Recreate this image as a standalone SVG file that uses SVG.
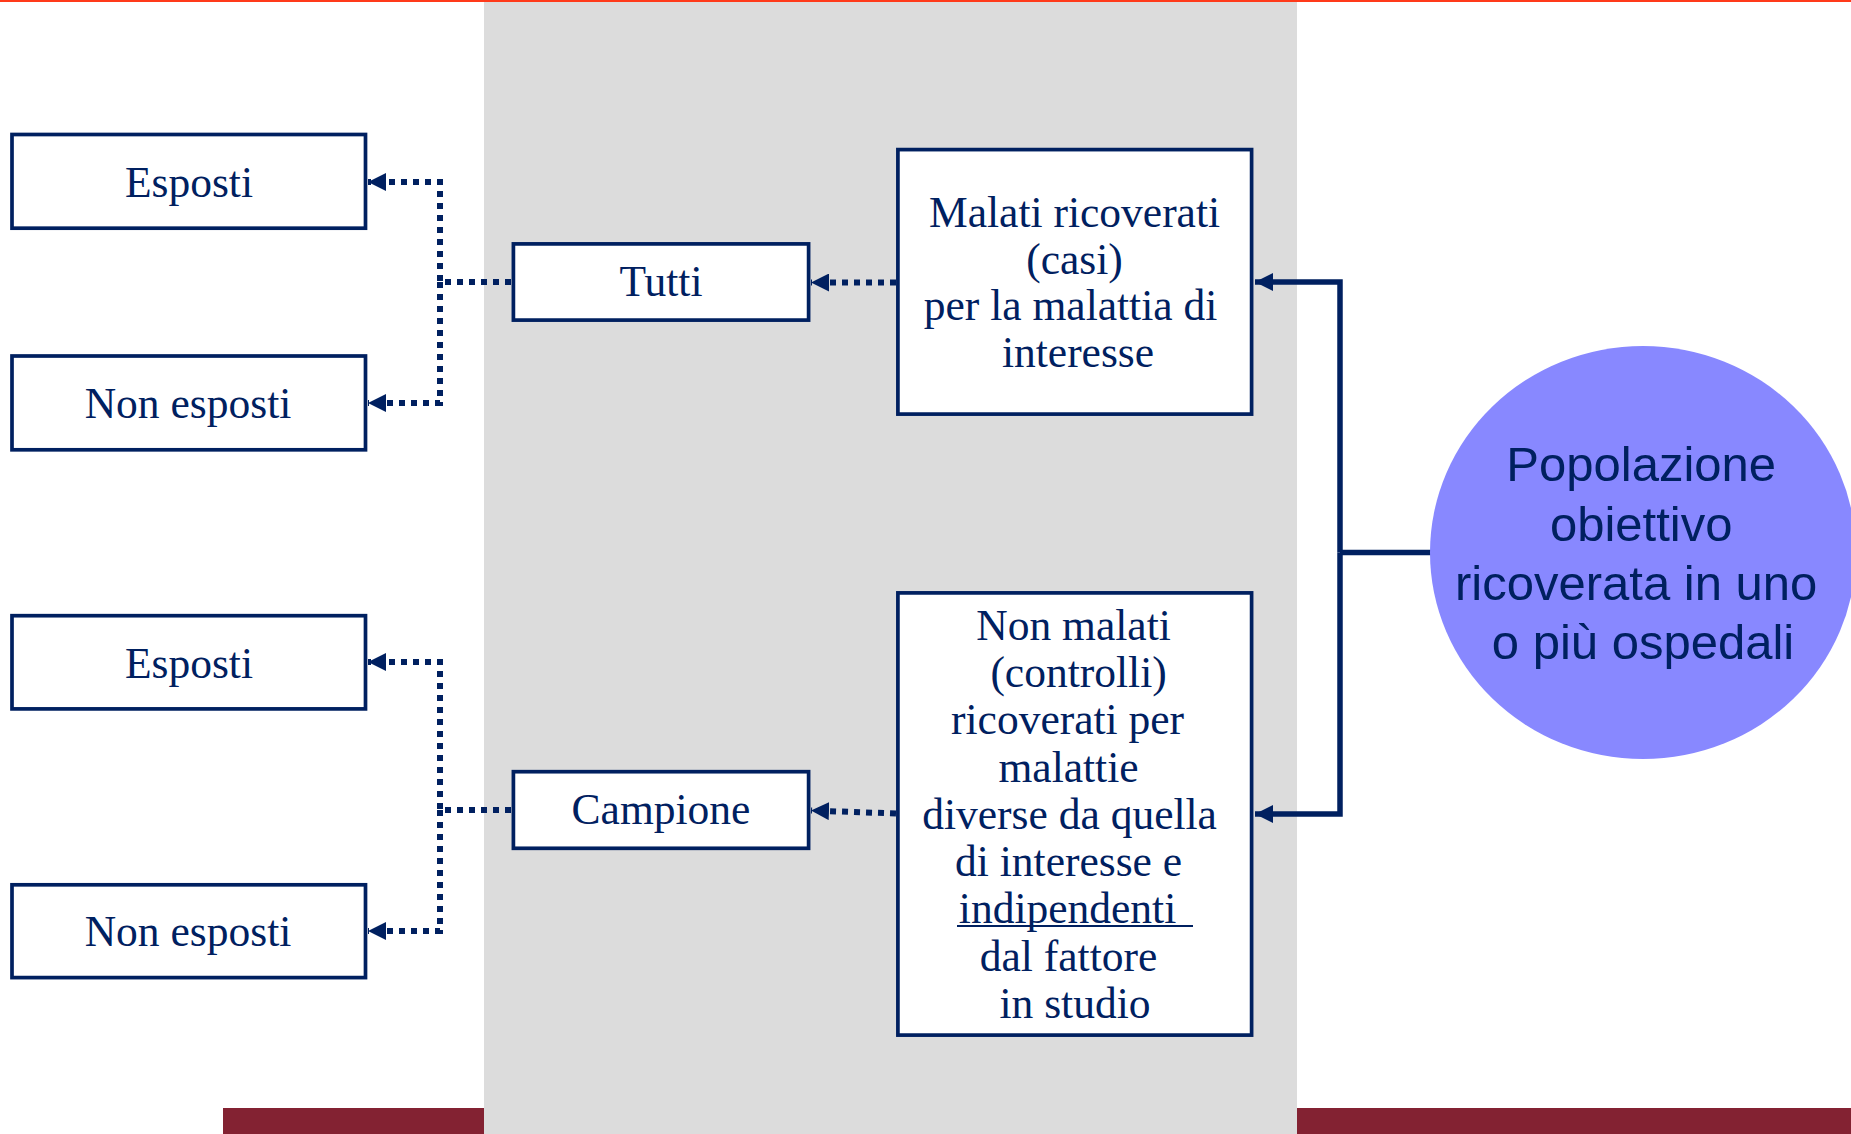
<svg xmlns="http://www.w3.org/2000/svg" width="1851" height="1134" viewBox="0 0 1851 1134">
  <style>
    .box { fill: #ffffff; stroke: #002060; stroke-width: 3.7; }
    .lbl { font-family: "Liberation Serif", "Times New Roman", serif; font-size: 43.5px; fill: #002060; text-anchor: middle; }
    .pop { font-family: "Liberation Sans", Arial, sans-serif; font-size: 49px; fill: #002060; text-anchor: middle; }
    .dot { fill: none; stroke: #002060; stroke-width: 6; stroke-dasharray: 6 6; }
    .solid { fill: none; stroke: #002060; stroke-width: 5.5; stroke-linejoin: miter; }
  </style>
  <defs>
    <marker id="head" viewBox="0 0 18 18" refX="18" refY="9" markerWidth="18" markerHeight="18" markerUnits="userSpaceOnUse" orient="auto">
      <path d="M0,0 L18,9 L0,18 z" fill="#002060"/>
    </marker>
  </defs>

  <!-- page background and slide decorations -->
  <rect x="0" y="0" width="1851" height="1134" fill="#ffffff"/>
  <rect x="223" y="1108" width="1628" height="26" fill="#832232"/>
  <rect x="484" y="0" width="813" height="1134" fill="#dcdcdc"/>
  <rect x="0" y="0" width="1851" height="2" fill="#ff3a1a"/>

  <!-- connectors -->
  <g id="connectors">
    <path class="dot" d="M511,282 H440 V182 H368" marker-end="url(#head)"/>
    <path class="dot" d="M440,282 V403 H368" marker-end="url(#head)"/>
    <path class="dot" d="M511,810 H440 V662 H368" marker-end="url(#head)"/>
    <path class="dot" d="M440,810 V931 H368" marker-end="url(#head)"/>
    <path class="dot" d="M896,282.5 H811" marker-end="url(#head)"/>
    <path class="dot" d="M896,813.5 L811,810.5" marker-end="url(#head)"/>
    <path class="solid" d="M1431,552.5 H1340"/>
    <path class="solid" d="M1340,552.5 V282 H1255" marker-end="url(#head)"/>
    <path class="solid" d="M1340,552.5 V814 H1255" marker-end="url(#head)"/>
  </g>

  <!-- nodes -->
  <g id="esposti-1">
    <rect class="box" x="12" y="134.5" width="353.5" height="93.7"/>
    <text class="lbl" x="189" y="196.5">Esposti</text>
  </g>
  <g id="non-esposti-1">
    <rect class="box" x="12" y="356" width="353.5" height="93.8"/>
    <text class="lbl" x="188" y="417.5">Non esposti</text>
  </g>
  <g id="esposti-2">
    <rect class="box" x="12" y="615.7" width="353.5" height="93.2"/>
    <text class="lbl" x="189" y="677.5">Esposti</text>
  </g>
  <g id="non-esposti-2">
    <rect class="box" x="12" y="884.8" width="353.5" height="92.8"/>
    <text class="lbl" x="188" y="945.5">Non esposti</text>
  </g>
  <g id="tutti">
    <rect class="box" x="513.4" y="243.9" width="295.2" height="76.2"/>
    <text class="lbl" x="661" y="295.5">Tutti</text>
  </g>
  <g id="campione">
    <rect class="box" x="513.4" y="771.7" width="295.2" height="76.6"/>
    <text class="lbl" x="661" y="823.5">Campione</text>
  </g>
  <g id="casi">
    <rect class="box" x="897.9" y="149.6" width="353.7" height="264.5"/>
    <text class="lbl">
      <tspan x="1080" y="226.5">Malati ricoverati</tspan>
      <tspan x="1080" y="273.5">(casi)</tspan>
      <tspan x="1076" y="319.5">per la malattia di</tspan>
      <tspan x="1078" y="366.5">interesse</tspan>
    </text>
  </g>
  <g id="controlli">
    <rect class="box" x="897.9" y="592.9" width="353.7" height="442.2"/>
    <text class="lbl">
      <tspan x="1079" y="639.5">Non malati</tspan>
      <tspan x="1084" y="686.5">(controlli)</tspan>
      <tspan x="1073" y="733.5">ricoverati per</tspan>
      <tspan x="1074" y="781.5">malattie</tspan>
      <tspan x="1075" y="828.5">diverse da quella</tspan>
      <tspan x="1074" y="875.5">di interesse e</tspan>
      <tspan x="1073" y="922.5">indipendenti</tspan>
      <tspan x="1074" y="970.5">dal fattore</tspan>
      <tspan x="1075" y="1017.5">in studio</tspan>
    </text>
    <line x1="957" y1="926" x2="1193" y2="926" stroke="#002060" stroke-width="2"/>
  </g>
  <g id="popolazione">
    <ellipse cx="1643" cy="552.5" rx="213" ry="206.5" fill="#8888ff"/>
    <text class="pop">
      <tspan x="1648" y="481">Popolazione</tspan>
      <tspan x="1648" y="541">obiettivo</tspan>
      <tspan x="1643" y="600">ricoverata in uno</tspan>
      <tspan x="1643" y="659">o più ospedali</tspan>
    </text>
  </g>
</svg>
